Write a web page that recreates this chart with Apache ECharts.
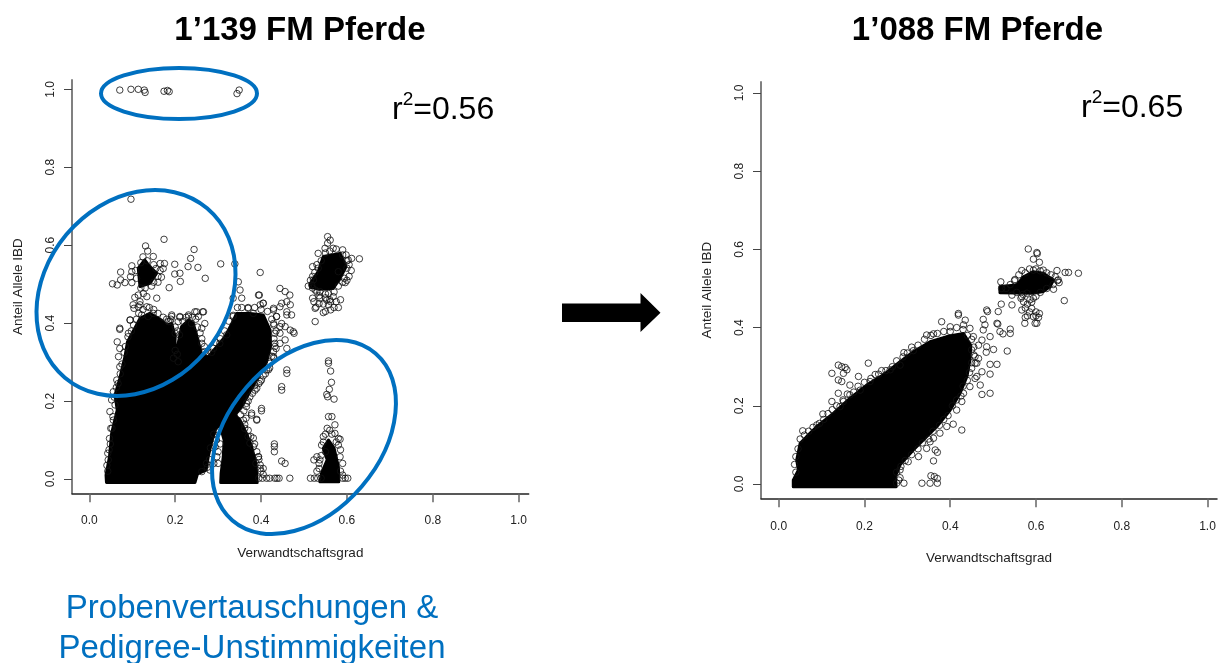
<!DOCTYPE html>
<html>
<head>
<meta charset="utf-8">
<style>html,body{margin:0;padding:0;background:#fff}#c{width:1222px;height:663px}</style>
<script src="https://cdn.jsdelivr.net/npm/echarts@6/dist/echarts.min.js"></script>
</head>
<body>
<div id="c"></div>
<script>
var xTicks = [0, 0.2, 0.4, 0.6, 0.8, 1.0];
var yTicks = [0, 0.2, 0.4, 0.6, 0.8, 1.0];
var titleLeft = "1’139 FM Pferde";
var titleRight = "1’088 FM Pferde";
var r2Left = "0.56";
var r2Right = "0.65";
var xName = "Verwandtschaftsgrad";
var yName = "Anteil Allele IBD";
var caption = "Probenvertauschungen &\nPedigree-Unstimmigkeiten";

// Saturated (solid black) regions, outlines: [Verwandtschaftsgrad, Anteil IBD]
var denseLeftMain = [[.040,-.009],[.039,.010],[.047,.057],[.052,.117],[.065,.177],[.060,.216],[.071,.258],[.083,.314],[.089,.352],[.106,.387],[.118,.412],[.141,.425],[.168,.408],[.180,.395],[.192,.399],[.200,.365],[.198,.297],[.207,.348],[.215,.391],[.231,.408],[.242,.399],[.252,.361],[.262,.318],[.277,.314],[.297,.340],[.316,.365],[.332,.399],[.343,.425],[.374,.425],[.405,.421],[.421,.382],[.422,.340],[.413,.301],[.394,.263],[.374,.224],[.355,.186],[.339,.164],[.351,.151],[.366,.117],[.378,.083],[.388,.040],[.390,.010],[.391,-.009],[.306,-.009],[.307,.015],[.312,.057],[.314,.100],[.304,.139],[.295,.130],[.285,.096],[.277,.057],[.272,.023],[.252,.013],[.246,-.009]];
var denseLeftUpper = [[.114,.541],[.129,.562],[.141,.545],[.157,.528],[.141,.502],[.118,.494]];
var denseLeftCluster = [[.515,.502],[.533,.532],[.545,.571],[.584,.579],[.598,.545],[.584,.515],[.568,.489],[.537,.487],[.515,.492]];
var denseLeftColumn = [[.545,.079],[.557,.100],[.570,.079],[.580,.032],[.581,.006],[.581,-.007],[.537,-.007],[.541,.015],[.554,.049]];
var denseRightMain = [[.034,-.007],[.034,.010],[.046,.036],[.042,.061],[.050,.104],[.065,.121],[.089,.147],[.128,.181],[.166,.219],[.205,.253],[.244,.279],[.283,.313],[.314,.338],[.353,.364],[.392,.377],[.431,.385],[.448,.355],[.446,.317],[.439,.275],[.423,.232],[.400,.189],[.369,.147],[.345,.121],[.314,.087],[.283,.049],[.272,.019],[.274,-.007]];
var denseRightCluster = [[.516,.505],[.516,.489],[.594,.488],[.617,.492],[.633,.505],[.641,.522],[.617,.539],[.594,.543],[.571,.530],[.555,.509]];

// Individually visible circles
var pointsLeftTop = [[.071,.998],[.097,1.0],[.114,1.0],[.128,.998],[.130,.992],[.174,.995],[.182,.997],[.186,.994],[.349,.998],[.344,.989]];
var pointsLeftUpper = [[.097,.718],[.174,.615],[.131,.598],[.136,.585],[.149,.571],[.244,.589],[.236,.566],[.199,.551],[.175,.553],[.165,.553],[.199,.526],[.211,.528],[.230,.545],[.253,.543],[.212,.507],[.270,.515],[.306,.552],[.339,.552],[.398,.530],[.186,.491],[.099,.547],[.073,.531],[.054,.501],[.065,.498],[.073,.511],[.083,.504],[.096,.519],[.099,.532],[.099,.504],[.110,.515],[.108,.535],[.120,.555],[.125,.57],[.135,.56],[.150,.55],[.155,.54],[.160,.52],[.165,.535],[.150,.505],[.160,.505],[.130,.49],[.145,.495],[.120,.49],[.172,.54],[.168,.518]];
var pointsLeftMid = [[.106,.466],[.114,.472],[.126,.476],[.134,.468],[.157,.464],[.118,.455],[.104,.438],[.114,.442],[.134,.442],[.122,.421],[.137,.417],[.149,.425],[.192,.417],[.211,.415],[.231,.417],[.246,.429],[.264,.429],[.238,.399],[.188,.404],[.095,.408],[.071,.387],[.335,.464],[.347,.506],[.351,.485],[.355,.464],[.394,.472],[.398,.447],[.405,.451],[.444,.489],[.456,.481],[.467,.472],[.460,.455],[.448,.451],[.471,.421],[.460,.429],[.370,.438],[.382,.425],[.429,.438],[.436,.417],[.335,.417]];
var pointsLeftRim = [[.396,.472],[.405,.451],[.444,.442],[.468,.447],[.460,.421],[.477,.374],[.468,.382],[.456,.391],[.444,.391],[.429,.399],[.432,.374],[.456,.357],[.460,.335],[.444,.348],[.432,.340],[.429,.314],[.417,.280],[.460,.280],[.460,.271],[.448,.237],[.448,.228],[.401,.181],[.401,.175],[.390,.153],[.378,.169],[.365,.156],[.398,.250],[.386,.228],[.366,.194],[.431,.090],[.431,.083],[.431,.070],[.448,.046],[.456,.040],[.398,.027],[.405,.027],[.394,.057],[.382,.083],[.370,.109],[.374,.092],[.362,.130],[.388,.040],[.413,.002],[.432,.002],[.442,.002],[.467,.002],[.395,.002],[.403,.002],[.420,.002],[.437,.002],[.071,.384],[.091,.374],[.065,.352],[.071,.335],[.068,.314],[.071,.288],[.064,.254],[.056,.224],[.052,.203],[.048,.173],[.056,.151],[.050,.130],[.047,.104],[.043,.066],[.044,.049],[.102,.447],[.118,.447],[.095,.408],[.192,.421],[.207,.404],[.231,.421],[.250,.429],[.266,.429],[.269,.399],[.262,.387],[.254,.417],[.211,.417],[.184,.404],[.200,.374],[.207,.301],[.262,.348],[.269,.327],[.289,.335],[.304,.348],[.320,.370],[.429,.434],[.436,.417],[.448,.399],[.475,.378],[.444,.374],[.432,.348],[.429,.327],[.421,.297],[.413,.280],[.401,.254],[.390,.233],[.374,.211],[.366,.186],[.359,.151],[.378,.164],[.390,.151],[.376,.109],[.394,.057],[.398,.036],[.297,.057],[.300,.040],[.293,.083],[.273,.040],[.281,.023],[.262,.019]];
var pointsLeftEdge = [[.043,.02],[.041,.035],[.046,.075],[.049,.09],[.053,.13],[.055,.16],[.06,.19],[.058,.21],[.063,.235],[.067,.245],[.072,.27],[.076,.295],[.081,.325],[.084,.34],[.09,.365],[.098,.38],[.103,.395],[.11,.41],[.115,.425],[.125,.435],[.14,.44],[.15,.435],[.16,.425],[.172,.415],[.18,.41],[.19,.41],[.2,.39],[.205,.38],[.2,.33],[.205,.32],[.196,.31],[.21,.37],[.218,.405],[.225,.415],[.24,.415],[.248,.41],[.252,.39],[.258,.375],[.262,.36],[.268,.34],[.275,.325],[.285,.325],[.295,.35],[.305,.36],[.315,.38],[.325,.405],[.335,.42],[.345,.44],[.355,.44],[.37,.44],[.385,.44],[.4,.435],[.415,.43],[.425,.41],[.43,.395],[.435,.38],[.43,.36],[.435,.335],[.43,.31],[.425,.315],[.42,.285],[.41,.27],[.405,.265],[.395,.245],[.385,.24],[.38,.22],[.37,.2],[.36,.175],[.352,.165],[.362,.14],[.37,.125],[.382,.105],[.385,.09],[.39,.07],[.395,.05],[.4,.02],[.405,.012],[.30,.12],[.305,.09],[.30,.07],[.296,.10],[.29,.115],[.282,.08],[.28,.05],[.29,.04],[.275,.03]];
var pointsLeftCluster = [[.555,.622],[.561,.613],[.555,.605],[.568,.592],[.549,.592],[.533,.579],[.590,.588],[.598,.575],[.611,.566],[.629,.565],[.603,.562],[.520,.545],[.533,.541],[.600,.541],[.594,.515],[.596,.504],[.522,.511],[.518,.498],[.526,.485],[.537,.481],[.520,.464],[.523,.455],[.528,.441],[.545,.449],[.545,.427],[.562,.434],[.562,.455],[.568,.468],[.526,.404],[.553,.459],[.537,.464],[.557,.476],[.580,.532],[.526,.438],[.557,.447],[.52,.52],[.525,.53],[.53,.55],[.54,.56],[.55,.58],[.56,.585],[.575,.59],[.59,.575],[.6,.56],[.605,.55],[.61,.535],[.605,.52],[.6,.51],[.59,.505],[.58,.495],[.57,.48],[.55,.475],[.53,.48],[.52,.49],[.51,.495],[.515,.51],[.535,.47],[.55,.465],[.56,.46],[.575,.455],[.585,.46],[.57,.44],[.55,.43],[.535,.45],[.58,.44]];
var pointsLeftColumn = [[.557,.303],[.557,.297],[.562,.277],[.564,.248],[.559,.230],[.553,.217],[.555,.211],[.570,.205],[.557,.160],[.565,.160],[.554,.130],[.572,.139],[.572,.117],[.545,.109],[.580,.104],[.584,.102],[.541,.087],[.580,.087],[.530,.057],[.523,.049],[.535,.027],[.537,.049],[.584,.057],[.524,.002],[.515,.002],[.532,.002],[.540,.002],[.596,.002],[.602,.002],[.590,.002],[.545,.095],[.55,.115],[.56,.125],[.565,.115],[.575,.095],[.585,.075],[.59,.04],[.585,.02],[.535,.04],[.53,.02],[.54,.06],[.55,.07],[.59,.01]];
var pointsRightCluster = [[.582,.601],[.602,.592],[.603,.589],[.594,.575],[.608,.567],[.567,.546],[.594,.547],[.617,.547],[.649,.546],[.668,.541],[.676,.541],[.699,.539],[.652,.522],[.654,.515],[.641,.498],[.551,.523],[.518,.517],[.666,.469],[.519,.460],[.544,.458],[.512,.441],[.567,.479],[.571,.466],[.567,.445],[.586,.471],[.590,.449],[.594,.428],[.608,.436],[.575,.426],[.574,.411],[.598,.411],[.606,.426],[.602,.411],[.544,.483],[.579,.488],[.594,.475],[.52,.5],[.53,.5],[.54,.51],[.55,.52],[.56,.535],[.575,.54],[.585,.55],[.6,.55],[.61,.545],[.625,.54],[.635,.535],[.645,.53],[.65,.52],[.64,.51],[.625,.5],[.61,.49],[.6,.48],[.59,.465],[.58,.46],[.57,.485],[.565,.475],[.555,.49],[.575,.45],[.585,.44],[.6,.44],[.6,.43],[.58,.43]];
var pointsRightMid = [[.485,.445],[.487,.441],[.477,.421],[.481,.407],[.509,.411],[.511,.409],[.516,.390],[.523,.384],[.540,.396],[.540,.385],[.533,.340],[.477,.394],[.493,.377],[.474,.368],[.485,.351],[.454,.377],[.466,.355],[.501,.344],[.484,.337],[.509,.306],[.493,.306],[.462,.309],[.474,.287],[.493,.281],[.458,.270],[.470,.253],[.474,.229],[.493,.232],[.450,.296],[.462,.275],[.446,.249],[.458,.326],[.466,.321],[.450,.343],[.458,.309]];
var pointsRightTop = [[.380,.415],[.419,.432],[.419,.436],[.435,.419],[.345,.381],[.446,.398],[.400,.402],[.431,.407],[.361,.384],[.314,.341],[.292,.336],[.283,.304],[.260,.292],[.233,.281],[.209,.309],[.213,.262],[.190,.240],[.186,.275],[.166,.253],[.159,.292],[.151,.283],[.155,.298],[.139,.304],[.147,.300],[.124,.283],[.139,.266],[.147,.262],[.139,.232],[.124,.211],[.166,.228],[.151,.211],[.143,.198],[.103,.179],[.089,.151],[.056,.136]];
var pointsRightLow = [[.431,.232],[.427,.211],[.415,.189],[.407,.153],[.427,.138],[.392,.147],[.376,.130],[.361,.117],[.353,.108],[.365,.087],[.370,.081],[.345,.091],[.326,.070],[.302,.057],[.361,.059],[.283,.036],[.283,.016],[.292,.002],[.275,.002],[.334,.002],[.355,.021],[.363,.019],[.370,.014],[.353,.002],[.370,.002]];
var pointsRightEdge = [[.04,.03],[.037,.05],[.04,.07],[.045,.09],[.05,.115],[.06,.125],[.07,.135],[.08,.145],[.095,.155],[.105,.165],[.115,.18],[.125,.19],[.135,.2],[.15,.215],[.16,.23],[.175,.235],[.185,.25],[.2,.26],[.215,.27],[.225,.28],[.24,.29],[.25,.29],[.265,.3],[.275,.315],[.29,.325],[.3,.335],[.31,.35],[.325,.355],[.34,.37],[.355,.38],[.37,.385],[.385,.39],[.4,.39],[.415,.4],[.43,.395],[.44,.38],[.45,.37],[.455,.35],[.455,.33],[.45,.31],[.445,.285],[.44,.265],[.43,.25],[.425,.225],[.415,.215],[.405,.2],[.395,.175],[.385,.165],[.375,.15],[.36,.135],[.35,.115],[.335,.105],[.325,.09],[.31,.075],[.295,.06],[.285,.045],[.275,.03],[.28,.01]];

var denseLeft = [denseLeftMain, denseLeftUpper, denseLeftCluster, denseLeftColumn];
var denseRight = [denseRightMain, denseRightCluster];
var pointsLeft = [].concat(pointsLeftTop, pointsLeftUpper, pointsLeftMid, pointsLeftRim, pointsLeftEdge, pointsLeftCluster, pointsLeftColumn);
var pointsRight = [].concat(pointsRightCluster, pointsRightMid, pointsRightTop, pointsRightLow, pointsRightEdge);

var FONT = '"Liberation Sans", Arial, sans-serif';
var BLUE = '#0070C0';

function denseSeries(polys, idx) {
  return {
    type: 'custom', xAxisIndex: idx, yAxisIndex: idx, silent: true, clip: false, z: 2,
    data: polys.map(function (p) { return p[0]; }),
    renderItem: function (params, api) {
      var poly = polys[params.dataIndex];
      return {
        type: 'polygon',
        shape: { points: poly.map(function (v) { return api.coord(v); }) },
        style: { fill: '#000', stroke: '#000', lineWidth: 3, lineJoin: 'round' }
      };
    }
  };
}
function circleSeries(points, idx) {
  return {
    type: 'scatter', xAxisIndex: idx, yAxisIndex: idx, silent: true, z: 3,
    symbol: 'circle', symbolSize: 6.5, data: points,
    itemStyle: { color: 'rgba(0,0,0,0)', borderColor: '#111', borderWidth: 1, opacity: 0.8 }
  };
}
function xAxisOf(idx, min, max, margin) {
  return {
    type: 'value', gridIndex: idx, min: min, max: max, position: 'bottom',
    name: xName, nameLocation: 'middle', nameGap: 53,
    nameTextStyle: { fontFamily: FONT, fontSize: 13.5, color: '#222' },
    splitLine: { show: false },
    axisLine: { show: true, onZero: false, lineStyle: { color: '#222', width: 1.5 } },
    axisTick: { show: true, length: 9, customValues: xTicks, lineStyle: { color: '#666', width: 1.5 } },
    axisLabel: { show: true, customValues: xTicks, margin: margin, fontFamily: FONT, fontSize: 12, color: '#222',
      formatter: function (v) { return v.toFixed(1); } }
  };
}
function yAxisOf(idx, min, max) {
  return {
    type: 'value', gridIndex: idx, min: min, max: max, position: 'left',
    name: yName, nameLocation: 'middle', nameGap: 47,
    nameTextStyle: { fontFamily: FONT, fontSize: 13.5, color: '#222' },
    splitLine: { show: false },
    axisLine: { show: true, onZero: false, lineStyle: { color: '#808080', width: 2 } },
    axisTick: { show: true, length: 8, customValues: yTicks, lineStyle: { color: '#444', width: 1 } },
    axisLabel: { show: true, customValues: yTicks, rotate: 90, margin: 15, fontFamily: FONT, fontSize: 12, color: '#222',
      formatter: function (v) { return v.toFixed(1); } }
  };
}
function r2Title(value, left, top) {
  return {
    left: left, top: top,
    text: '{a|r}{b|2}{a|=' + value + '}',
    textStyle: { rich: {
      a: { fontFamily: FONT, fontSize: 32, fontWeight: 'normal', color: '#000', verticalAlign: 'bottom', lineHeight: 36 },
      b: { fontFamily: FONT, fontSize: 19, fontWeight: 'normal', color: '#000', verticalAlign: 'top', lineHeight: 22 }
    } }
  };
}

var option = {
  animation: false,
  backgroundColor: '#fff',
  title: [
    { left: 295, top: 9, textAlign: 'center', text: titleLeft, textStyle: { fontFamily: FONT, fontSize: 33, fontWeight: 'bold', color: '#000' } },
    { left: 972.5, top: 9, textAlign: 'center', text: titleRight, textStyle: { fontFamily: FONT, fontSize: 33, fontWeight: 'bold', color: '#000' } },
    r2Title(r2Left, 387, 85),
    r2Title(r2Right, 1076, 83),
    { left: 247, top: 584, textAlign: 'center', text: caption, textStyle: { fontFamily: FONT, fontSize: 33, fontWeight: 'normal', color: BLUE, lineHeight: 40 } }
  ],
  grid: [
    { left: 72, top: 80, width: 456.7, height: 413.3 },
    { left: 761, top: 82, width: 456, height: 416.3 }
  ],
  xAxis: [xAxisOf(0, -0.0403, 1.0233, 21), xAxisOf(1, -0.0413, 1.0222, 22)],
  yAxis: [yAxisOf(0, -0.0367, 1.0239), yAxisOf(1, -0.0366, 1.0281)],
  series: [
    denseSeries(denseLeft, 0), circleSeries(pointsLeft, 0),
    denseSeries(denseRight, 1), circleSeries(pointsRight, 1)
  ],
  graphic: [
    { type: 'ellipse', z: 100, x: 179, y: 93.5, shape: { cx: 0, cy: 0, rx: 78, ry: 25.5 }, style: { fill: 'none', stroke: BLUE, lineWidth: 4 } },
    { type: 'ellipse', z: 100, x: 136, y: 293, rotation: 50 * Math.PI / 180, shape: { cx: 0, cy: 0, rx: 110.6, ry: 90.9 }, style: { fill: 'none', stroke: BLUE, lineWidth: 4 } },
    { type: 'ellipse', z: 100, x: 304, y: 437, rotation: 49.4 * Math.PI / 180, shape: { cx: 0, cy: 0, rx: 110, ry: 76 }, style: { fill: 'none', stroke: BLUE, lineWidth: 4 } },
    { type: 'polygon', z: 100, shape: { points: [[562, 303.5], [640.5, 303.5], [640.5, 293], [660.5, 312.7], [640.5, 332], [640.5, 322], [562, 322]] }, style: { fill: '#000' } }
  ]
};
var chart = echarts.init(document.getElementById('c'), null, { renderer: 'canvas' });
chart.setOption(option);
</script>
</body>
</html>
